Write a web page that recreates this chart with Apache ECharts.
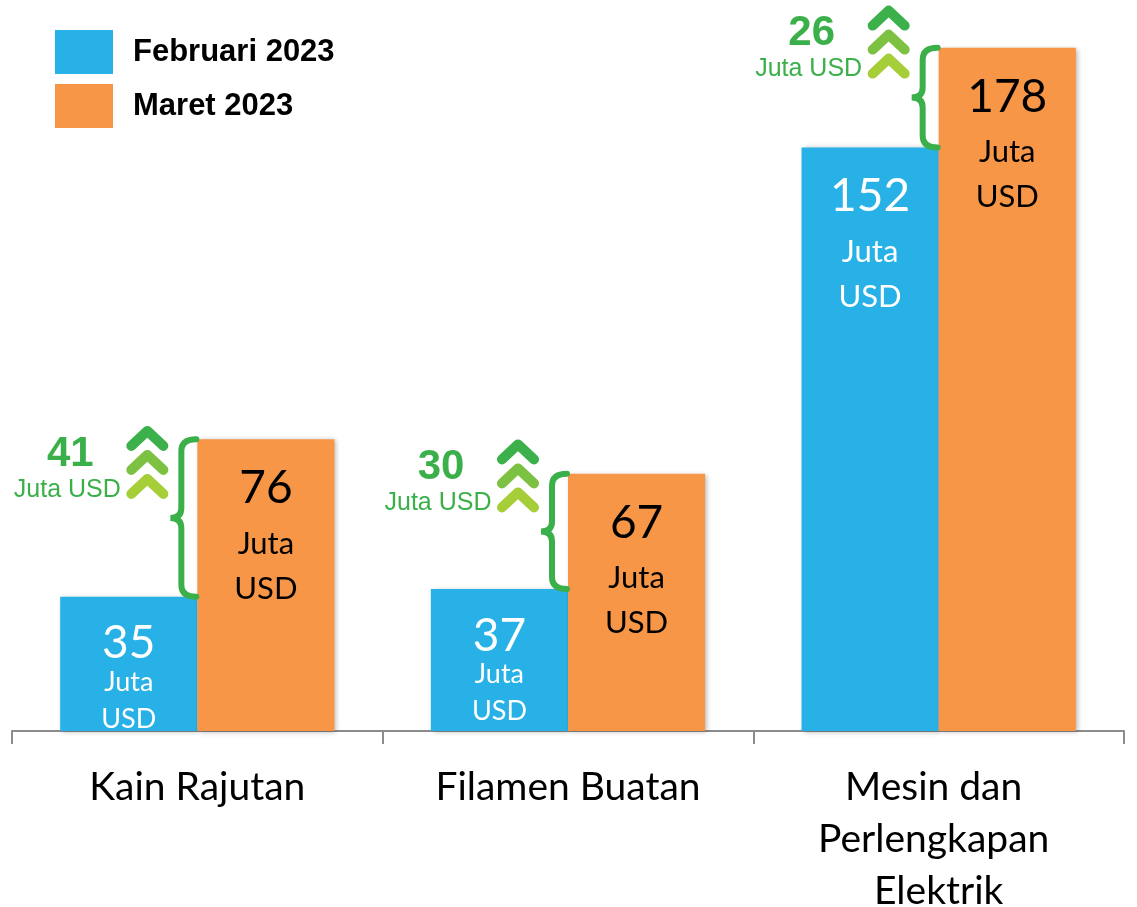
<!DOCTYPE html>
<html>
<head>
<meta charset="utf-8">
<script src="https://cdn.jsdelivr.net/npm/echarts@6/dist/echarts.min.js"></script>
<style>
  html, body { margin: 0; padding: 0; background: #fff; }
  #chart { width: 1137px; height: 907px; }
</style>
</head>
<body>
<div id="chart"></div>
<script>
// data
var categories = ['Kain Rajutan', 'Filamen Buatan', 'Mesin dan Perlengkapan Elektrik'];
var februari = [35, 37, 152];
var maret = [76, 67, 178];
var kenaikan = [41, 30, 26];
var satuan = 'Juta USD';

var BLUE = '#27b1e6';
var ORANGE = '#f79646';
var GREEN = '#3bb04a';
var chevronColors = ['#3cb04a', '#7cc142', '#a6ce39'];

// label inside bar: angka besar + "Juta" + "USD"
function barLabel(color, compact) {
  return {
    show: true,
    position: 'insideTop',
    distance: compact ? 27 : 16,
    color: color,
    fontFamily: 'Lato',
    formatter: function (p) {
      return '{n|' + p.value + '}\n{u|Juta}\n{u|USD}';
    },
    rich: {
      n: { fontSize: 46, lineHeight: compact ? 40 : 66, color: color, fontFamily: 'Lato' },
      u: { fontSize: compact ? 27 : 31, lineHeight: compact ? 37 : 45, color: color, fontFamily: 'Lato' }
    }
  };
}

var barShadow = {
  shadowBlur: 5,
  shadowColor: 'rgba(0,0,0,0.3)',
  shadowOffsetX: 2,
  shadowOffsetY: 1
};

// kurung kurawal + panah + teks kenaikan
function renderKenaikan(params, api) {
  var i = api.value(0);
  var lo = api.coord([i, api.value(1)]);
  var hi = api.coord([i, api.value(2)]);
  var edge = lo[0];
  var top = hi[1], bot = lo[1], mid = (top + bot) / 2;
  var x0 = edge - 1, x1 = edge - 16, xp = edge - 27;
  var brace = ['M', x0, top, 'Q', x1, top, x1, top + 12,
    'L', x1, mid - 10, 'Q', x1, mid, xp, mid,
    'Q', x1, mid, x1, mid + 10, 'L', x1, bot - 12,
    'Q', x1, bot, x0, bot].join(' ');

  var children = [{
    type: 'path',
    shape: { pathData: brace },
    style: { fill: 'none', stroke: GREEN, lineWidth: 6, lineCap: 'round' }
  }];

  var cx = edge - 50, cy = mid - 55;
  chevronColors.forEach(function (c, k) {
    var y = cy + (k - 1) * 24;
    children.push({
      type: 'polyline',
      shape: { points: [[cx - 16, y + 7], [cx, y - 8], [cx + 16, y + 7]] },
      style: { fill: 'none', stroke: c, lineWidth: 10, lineCap: 'round', lineJoin: 'round' }
    });
  });

  children.push({
    type: 'text',
    style: {
      text: String(api.value(3)), x: edge - 127, y: mid - 64,
      align: 'center', verticalAlign: 'middle',
      font: 'bold 42px "Liberation Sans", Arial', fill: GREEN
    }
  });
  children.push({
    type: 'text',
    style: {
      text: satuan, x: edge - 130, y: mid - 28,
      align: 'center', verticalAlign: 'middle',
      font: '25px "Liberation Sans", Arial', fill: GREEN
    }
  });
  return { type: 'group', children: children };
}

var chart = echarts.init(document.getElementById('chart'));

chart.setOption({
  animation: false,
  grid: { left: 12, right: 13, top: 40, bottom: 176, outerBoundsMode: 'none', containLabel: false },
  legend: {
    data: ['Februari 2023', 'Maret 2023'],
    orient: 'vertical',
    left: 50,
    top: 25,
    itemWidth: 58,
    itemHeight: 44,
    itemGap: 10,
    icon: 'rect',
    selectedMode: false,
    textStyle: {
      fontFamily: 'Liberation Sans',
      fontWeight: 'bold',
      fontSize: 31,
      color: '#000',
      padding: [0, 0, 0, 15]
    }
  },
  xAxis: {
    type: 'category',
    data: categories,
    axisLine: { lineStyle: { color: '#8c8c8c', width: 2 } },
    axisTick: { show: true, length: 13, lineStyle: { color: '#8c8c8c', width: 2 } },
    axisLabel: {
      interval: 0,
      color: '#000',
      fontFamily: 'Lato',
      fontSize: 39,
      lineHeight: 52,
      margin: 30,
      width: 330,
      overflow: 'break'
    }
  },
  yAxis: {
    type: 'value',
    show: false,
    min: 0,
    max: 180,
    splitLine: { show: false }
  },
  series: [
    {
      name: 'Februari 2023',
      type: 'bar',
      barWidth: '37%',
      barGap: '0%',
      itemStyle: Object.assign({ color: BLUE }, barShadow),
      data: februari.map(function (v) {
        return { value: v, label: barLabel('#fff', v < 100) };
      })
    },
    {
      name: 'Maret 2023',
      type: 'bar',
      barWidth: '37%',
      barGap: '0%',
      itemStyle: Object.assign({ color: ORANGE }, barShadow),
      label: barLabel('#000', false),
      data: maret
    },
    {
      name: 'kenaikan',
      type: 'custom',
      coordinateSystem: 'cartesian2d',
      silent: true,
      z: 5,
      encode: { x: 0, y: [1, 2] },
      data: categories.map(function (c, i) {
        return [i, februari[i], maret[i], kenaikan[i]];
      }),
      renderItem: renderKenaikan
    }
  ]
});
</script>
</body>
</html>
